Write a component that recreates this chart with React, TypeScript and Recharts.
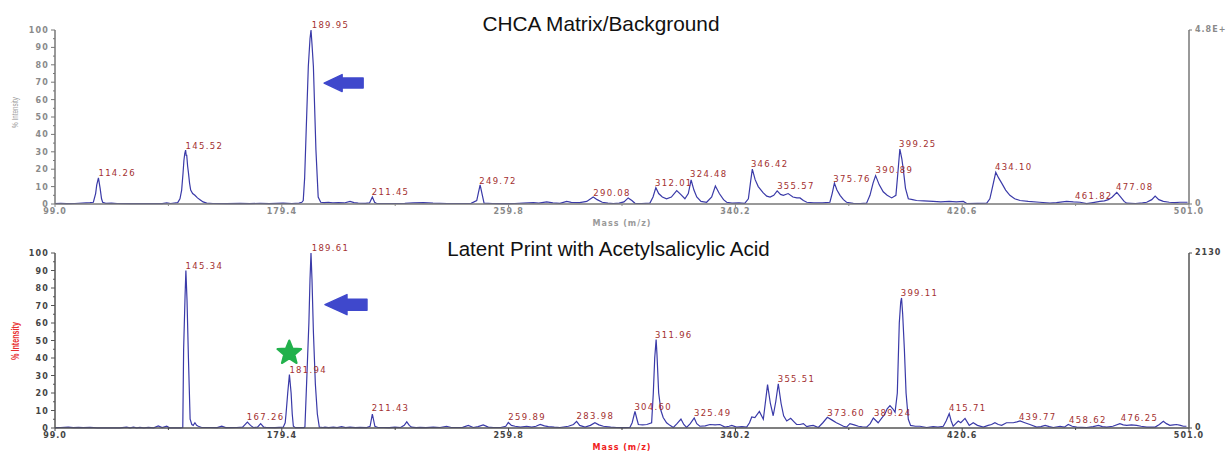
import { ComposedChart, Line, XAxis, YAxis, ReferenceDot } from "recharts";

// axis ticks
const xTicks = [99.0, 139.2, 179.4, 219.6, 259.8, 300.0, 340.2, 380.4, 420.6, 460.8, 501.0];
const xTickLabels = ["99.0", "", "179.4", "", "259.8", "", "340.2", "", "420.6", "", "501.0"];
const yTicks = [0, 5, 10, 15, 20, 25, 30, 35, 40, 45, 50, 55, 60, 65, 70, 75, 80, 85, 90, 95, 100];
const rightTicks = [0, 100];

// [mass, % intensity]
const matrixSpectrum: [number, number][] = [
  [99.0, 0.3], [101, 0.4], [103, 0.2], [106, 0.3], [111.4, 0.8], [112.6, 1], [113.4, 6], [113.8, 11], [114.4, 15],
  [115.0, 9], [115.5, 3], [115.9, 1], [117, 0.4], [119, 0.5], [121, 0.3], [126, 0.2], [134, 0.3], [137, 0.2],
  [138.6, 0.6], [140, 0.3], [142.5, 0.8], [143.3, 3], [143.9, 8], [144.4, 18], [144.7, 25], [145.0, 29], [145.3, 31],
  [145.5, 28], [145.7, 28], [146.0, 22], [146.3, 18], [146.7, 12], [147.1, 8], [147.8, 6], [148.6, 5], [149.5, 3.5],
  [150.4, 2.5], [151.5, 1.2], [152.8, 0.5], [155, 0.3], [160, 0.2], [164.6, 0.4], [168, 0.2], [171.7, 0.4], [175, 0.2],
  [179.9, 0.5], [183, 0.3], [185.5, 0.5], [186.5, 1], [187.0, 2], [187.5, 15], [188.0, 40], [188.8, 79], [189.4, 95],
  [189.75, 100], [190.1, 92], [190.6, 79], [191.5, 31], [192.3, 4], [193.2, 1], [194.5, 0.8], [195.9, 1], [197.5, 0.6],
  [199.5, 0.8], [201.5, 0.6], [203.6, 1.5], [205, 0.8], [206.5, 0.5], [209, 0.4], [210.5, 0.6], [211.5, 4], [212.3, 1],
  [213, 0.3], [218, 0.3], [223, 0.4], [226, 0.6], [229.6, 0.8], [233, 0.5], [238, 0.3], [243.2, 0.3], [246.5, 0.4],
  [248.5, 2], [249.7, 11], [250.5, 5], [251.1, 0.5], [254, 0.3], [258, 0.2], [262, 0.3], [265, 0.5], [268.6, 0.8],
  [270.5, 0.5], [273.3, 1.2], [275.5, 0.6], [278, 0.4], [280.4, 1.5], [282, 0.9], [285, 0.8], [287.5, 1.5], [289.8, 4],
  [291.2, 2.5], [293, 1], [295, 0.5], [296.9, 0.3], [299, 0.5], [300.7, 1.2], [302.2, 3.5], [303.5, 2], [304.6, 0.4],
  [307, 0.3], [309.9, 0.5], [311.0, 4], [312.0, 9.4], [313.0, 6], [314.3, 4], [315.8, 3], [317.5, 4], [319.4, 7.7],
  [320.8, 5.5], [322.3, 3], [323.5, 6], [324.5, 13.8], [325.5, 8], [326.5, 4], [328, 1.5], [330, 1], [331.8, 4],
  [333.1, 10.3], [334.5, 6], [336, 2.5], [337.1, 1], [339, 0.5], [341.5, 0.6], [343.5, 0.4], [344.8, 3], [345.6, 13],
  [346.2, 20], [347.2, 14], [348.3, 10], [350, 6.5], [351.3, 4.5], [352.5, 4], [353.8, 5], [355.0, 7.5], [356.2, 5.5],
  [357.2, 5], [358.9, 6], [360.6, 4], [362, 3.5], [363.1, 3.5], [364.3, 2], [365.5, 1], [368, 0.6], [371, 0.6],
  [373.7, 1], [374.5, 6], [375.3, 12], [376.2, 8], [377.3, 5], [378.5, 2.5], [379.6, 1], [382, 0.4], [384.5, 0.3],
  [386.7, 0.5], [387.9, 5], [389.0, 12], [389.9, 16.3], [391.2, 11], [392.6, 7], [394, 5], [395.6, 3.5], [397.1, 5],
  [397.8, 18], [398.5, 31.6], [399.2, 26], [399.7, 20], [400.5, 9], [401.5, 3], [403, 2.5], [404.4, 2], [407, 1.8],
  [410.3, 1.5], [413, 1.2], [416, 1.5], [418.5, 1.2], [421, 1.5], [422.2, 0.3], [426, 0.4], [429.3, 0.5], [430.4, 3],
  [431.1, 8], [432.5, 18.2], [433.5, 15], [434.6, 12], [436, 8], [437.5, 5], [439.2, 3], [441.1, 2], [444, 1.5],
  [448, 1], [451.7, 0.5], [454, 0.8], [457.6, 1.5], [460, 1.2], [462.4, 1], [464.7, 0.2], [467, 0.8], [469.4, 1.5],
  [471, 1.8], [472.4, 2.5], [473.8, 4], [475.4, 6.7], [476.8, 4], [478.0, 1.5], [478.9, 0.5], [482, 0.3], [484.5, 0.6],
  [486, 1], [487.8, 2.5], [489.0, 4.6], [490.3, 2.5], [491.9, 1.5], [494, 1], [496, 0.8], [497.8, 1], [500.5, 1],
];

const printSpectrum: [number, number][] = [
  [99.0, 0.2], [101, 0.3], [103.7, 0.5], [105.5, 0.2], [107.3, 0.4], [109, 0.2], [111.4, 0.3], [114, 0.1], [122, 0.1],
  [124.4, 0.5], [125.6, 0.1], [126.8, 0.5], [128, 0.1], [129.1, 0.3], [130.5, 0.1], [132.1, 0.3], [134, 0.1],
  [135.6, 1.2], [137, 0.2], [138.6, 1], [139.6, 0.1], [143.5, 0.1], [144.3, 0.3], [144.6, 45], [145.1, 75], [145.4, 90],
  [145.8, 73], [146.3, 40], [146.9, 5], [147.5, 2], [148.0, 1.5], [148.6, 3], [149.2, 1.5], [149.8, 1], [151, 0.3],
  [154, 0.3], [156.5, 0.2], [158.1, 1], [159.5, 0.2], [163.4, 0.3], [165.5, 0.5], [167.2, 3.4], [168.3, 1.5],
  [169.3, 0.3], [170.8, 0.5], [171.9, 2.5], [173, 0.5], [174, 0.3], [177, 0.2], [179.9, 0.5], [180.6, 3], [180.9, 8],
  [181.5, 20], [182.1, 30.5], [182.7, 20], [183.1, 8], [183.5, 1], [184.2, 0.2], [187.2, 0.2], [187.6, 0.5], [188.3, 30],
  [189.0, 60], [189.4, 85], [189.75, 100], [190.1, 85], [190.6, 55], [191.3, 25], [192.0, 8], [192.7, 0.5], [194, 0.3],
  [194.7, 0.5], [196, 0.2], [197.7, 0.5], [199, 0.2], [200.6, 0.8], [202, 0.2], [203.6, 0.5], [205.5, 0.2], [207.1, 0.3],
  [209.5, 0.2], [210.7, 1], [211.5, 8], [212.4, 1], [213.5, 0.3], [215.4, 0.3], [217.5, 0.2], [219.5, 0.5], [221.5, 0.3],
  [222.8, 1.5], [223.7, 3.5], [224.6, 1.5], [225.4, 0.5], [227, 0.2], [228.4, 0.3], [230.5, 0.2], [233.1, 0.5],
  [235.5, 0.3], [237.8, 1], [239.5, 0.3], [241.4, 0.3], [243.5, 0.4], [245.5, 1.5], [247.3, 0.3], [249, 0.8],
  [250.8, 1.8], [252.6, 0.5], [254.4, 0.3], [257, 0.3], [258.8, 1], [259.7, 3.2], [260.8, 1.5], [262.1, 1], [264, 0.5],
  [266.2, 1], [268, 0.5], [269.5, 1], [271, 2], [272.5, 1.2], [273.9, 0.8], [276, 0.5], [278, 0.3], [281, 1], [282.8, 2],
  [283.9, 3.8], [285, 1.5], [286.9, 0.5], [288.8, 1.5], [290.4, 3], [291.8, 1.8], [293.4, 1], [296, 0.5], [298.1, 0.3],
  [300.5, 0.2], [302.8, 0.3], [303.6, 3], [304.6, 9.5], [305.3, 5], [305.8, 2], [307.3, 1.8], [308.8, 2], [310.5, 3],
  [311.1, 20], [311.6, 40], [312.1, 50.5], [312.4, 42], [313.0, 20], [313.8, 10], [314.6, 6], [315.8, 3], [317, 1.5],
  [318.2, 0.3], [319.5, 2.5], [320.9, 5.1], [321.9, 2], [322.9, 0.3], [324.2, 2.5], [325.6, 5.7], [326.5, 2.5],
  [327.6, 1], [329.5, 1.2], [331.2, 2], [333, 1.8], [334.7, 2], [336.5, 0.5], [338.0, 1], [338.9, 1.5], [340.6, 0.5],
  [342.5, 0.8], [344.2, 0.5], [345.2, 3], [346.0, 6.3], [347.1, 6], [348.7, 9.5], [350.1, 5], [351.6, 24.8], [352.6, 14],
  [353.6, 7], [354.5, 15], [355.4, 25.3], [356.4, 14], [357.3, 7], [358.4, 4], [359.8, 5.5], [361.0, 3.5], [361.9, 2],
  [363.1, 2], [364.3, 2.5], [365.5, 0.8], [366.6, 1.2], [367.8, 1.5], [369.6, 0.3], [371.2, 3], [372.8, 6.1],
  [374.5, 4.5], [376, 3], [377.3, 2], [378.5, 1], [379.6, 0.5], [380.8, 2.5], [382.3, 1.8], [383.8, 1], [385.2, 0.7],
  [386.7, 0.5], [388, 2.5], [389.1, 5.7], [390.8, 3], [392, 5.5], [393.2, 8], [394, 11], [395, 12.8], [396, 11],
  [396.8, 9], [397.6, 20], [398.3, 60], [398.8, 72], [399.1, 74.3], [399.5, 65], [400.1, 45], [400.7, 20], [401.5, 5],
  [402.3, 1.5], [404, 1], [405.6, 1], [408, 0.3], [410.3, 0.8], [412, 0.5], [413.9, 1], [414.9, 4], [416.0, 8.2],
  [416.7, 4], [417.4, 1], [418.3, 2.5], [419.2, 4], [420.1, 3], [421.6, 5.5], [423.1, 1.5], [424.5, 3], [426, 1.5],
  [428.1, 0.5], [429.8, 1.5], [431, 2], [432.2, 3], [433.4, 2], [434.6, 1.5], [436.3, 3], [438.7, 3], [440, 3.5],
  [441.1, 4], [442.8, 3], [444.6, 2], [447, 0.5], [448.5, 0.8], [450, 1.5], [451.5, 0.8], [452.9, 0.3], [455.3, 1],
  [456.8, 0.5], [458.2, 2], [459.6, 1], [461.2, 0.5], [464.7, 0.3], [467, 0.8], [468.9, 1.5], [470.3, 0.8], [471.8, 0.5],
  [474, 1], [476.5, 2.5], [477.7, 1.8], [478.9, 1.5], [480.6, 1.8], [482.4, 1.5], [484, 1], [486, 0.5], [489, 0.5],
  [490.5, 2], [491.9, 3.8], [493, 2.5], [494.2, 1.5], [495.5, 1.8], [496.6, 2], [498, 1.5], [499, 1], [500.1, 1],
];

// peak annotations: [mass, intensity at text baseline, text]
const matrixPeaks: [number, number, string][] = [
  [114.4, 16.3, "114.26"], [145.3, 31.8, "145.52"], [190.0, 101, "189.95"], [211.3, 5.2, "211.45"],
  [249.4, 11.5, "249.72"], [289.8, 4.8, "290.08"], [311.7, 10.5, "312.01"], [324.1, 15.7, "324.48"],
  [345.7, 21.4, "346.42"], [355.0, 8.4, "355.57"], [374.9, 12.8, "375.76"], [389.9, 17.6, "390.89"],
  [398.2, 32.9, "399.25"], [432.2, 19.5, "434.10"], [460.6, 2.9, "461.82"], [475.1, 8, "477.08"],
];

const printPeaks: [number, number, string][] = [
  [145.3, 90.9, "145.34"], [167.0, 4.4, "167.26"], [182.1, 31.4, "181.94"], [190.0, 100.9, "189.61"],
  [211.3, 9.5, "211.43"], [259.7, 4.4, "259.89"], [283.9, 5.1, "283.98"], [304.4, 10.5, "304.60"],
  [311.7, 51.4, "311.96"], [325.5, 7.0, "325.49"], [355.2, 26.1, "355.51"], [372.8, 6.6, "373.60"],
  [389.3, 6.6, "389.24"], [398.8, 75.6, "399.11"], [415.9, 9.5, "415.71"], [440.7, 4.7, "439.77"],
  [458.5, 2.9, "458.62"], [476.8, 3.8, "476.25"],
];

const matrixData = matrixSpectrum.map(([m, i]) => ({ m, i }));
const printData = printSpectrum.map(([m, i]) => ({ m, i }));

const TICK_FONT = "DejaVu Sans, sans-serif";
const LINE_COLOR = "#3a3aa8";
const PEAK_COLOR = "#a33030";

const makeXTick = (color: string) => (props: any) => {
  const { x, y, payload } = props;
  const label = xTickLabels[xTicks.indexOf(payload.value)] ?? "";
  return (
    <g>
      <line x1={x} x2={x} y1={y} y2={y + (label ? 3 : 2)} stroke={color} strokeWidth={1} />
      {label && (
        <text x={x} y={y + 10} textAnchor="middle" fill={color} fontFamily={TICK_FONT}
          fontSize={8} fontWeight="bold" letterSpacing={1}>
          {label}
        </text>
      )}
    </g>
  );
};

const makeYTick = (color: string, axisColor: string) => (props: any) => {
  const { x, y, payload } = props;
  const major = payload.value % 10 === 0;
  return (
    <g>
      <line x1={x} x2={x - (major ? 4 : 2)} y1={y} y2={y} stroke={axisColor} strokeWidth={1} />
      {major && (
        <text x={x - 6} y={y + 3} textAnchor="end" fill={color} fontFamily={TICK_FONT}
          fontSize={8} fontWeight="bold" letterSpacing={1.2}>
          {payload.value}
        </text>
      )}
    </g>
  );
};

const makeRightTick = (topLabel: string, color: string, axisColor: string) => (props: any) => {
  const { x, y, payload } = props;
  return (
    <g>
      <line x1={x} x2={x + 3} y1={y} y2={y} stroke={axisColor} strokeWidth={1} />
      <text x={x + 6} y={y + 2} textAnchor="start" fill={color} fontFamily={TICK_FONT}
        fontSize={8} fontWeight="bold" letterSpacing={1}>
        {payload.value === 0 ? "0" : topLabel}
      </text>
    </g>
  );
};

const peakText = (text: string) => (p: any) => (
  <text x={p.cx} y={p.cy} fill={PEAK_COLOR} fontFamily={TICK_FONT} fontSize={8.5} letterSpacing={1.3}>
    {text}
  </text>
);

const arrowShape = (head: number, len: number, hh: number, bh: number) => (p: any) => {
  const { cx, cy } = p;
  const pts = [
    [cx, cy], [cx + head, cy - hh], [cx + head, cy - bh], [cx + len, cy - bh],
    [cx + len, cy + bh], [cx + head, cy + bh], [cx + head, cy + hh],
  ].map((q) => q.join(",")).join(" ");
  return <polygon points={pts} fill="#3f48cc" stroke="#3f48cc" strokeWidth={1.5} strokeLinejoin="round" />;
};

const starShape = (p: any) => {
  const { cx, cy } = p;
  const pts: string[] = [];
  for (let k = 0; k < 10; k++) {
    const r = k % 2 === 0 ? 12.5 : 5.5;
    const a = -Math.PI / 2 + (k * Math.PI) / 5;
    pts.push(`${cx + r * Math.cos(a)},${cy + r * Math.sin(a)}`);
  }
  return <polygon points={pts.join(" ")} fill="#22b14c" stroke="#22b14c" strokeWidth={2} strokeLinejoin="round" />;
};

interface PanelProps {
  data: { m: number; i: number }[];
  peaks: [number, number, string][];
  marginTop: number;
  marginBottom: number;
  tickColor: string;
  axisColor: string;
  rightLabel: string;
  children?: React.ReactNode;
}

const SpectrumPanel = ({ data, peaks, marginTop, marginBottom, tickColor, axisColor, rightLabel, children }: PanelProps) => (
  <ComposedChart width={1228} height={226} data={data}
    margin={{ top: marginTop, right: 0, bottom: marginBottom, left: 0 }}>
    <XAxis dataKey="m" type="number" domain={[99, 501]} ticks={xTicks} allowDataOverflow
      height={22} tickSize={0} tickMargin={0} tickLine={false} interval={0}
      axisLine={{ stroke: axisColor, strokeWidth: 1.5 }} tick={makeXTick(tickColor)} />
    <YAxis type="number" domain={[0, 100]} ticks={yTicks} width={55} interval={0}
      tickSize={0} tickMargin={0} tickLine={false}
      axisLine={{ stroke: axisColor, strokeWidth: 1.5 }} tick={makeYTick(tickColor, axisColor)} />
    <YAxis yAxisId="right" orientation="right" type="number" domain={[0, 100]} ticks={rightTicks} width={39}
      allowDataOverflow interval={0} tickSize={0} tickMargin={0} tickLine={false}
      axisLine={{ stroke: axisColor, strokeWidth: 1.5 }} tick={makeRightTick(rightLabel, tickColor, axisColor)} />
    <Line type="linear" dataKey="i" stroke={LINE_COLOR} strokeWidth={1.2} dot={false} isAnimationActive={false} />
    {peaks.map(([m, i, t]) => (
      <ReferenceDot key={t} x={m} y={i} r={0} ifOverflow="visible" shape={peakText(t)} />
    ))}
    {children}
  </ComposedChart>
);

const App = () => {
  const font = "Liberation Sans, Arial, sans-serif";
  return (
    <div style={{ position: "absolute", left: 0, top: 0, width: 1228, height: 452, background: "#fff" }}>
      <div style={{ position: "absolute", left: 0, top: 0 }}>
        <SpectrumPanel data={matrixData} peaks={matrixPeaks} marginTop={30} marginBottom={0}
          tickColor="#8a8a8a" axisColor="#777" rightLabel="4.8E+">
          <ReferenceDot x={194.4} y={69.5} r={0} ifOverflow="visible" shape={arrowShape(18, 39, 8.5, 5)} />
        </SpectrumPanel>
      </div>
      <div style={{ position: "absolute", left: 0, top: 226 }}>
        <SpectrumPanel data={printData} peaks={printPeaks} marginTop={27} marginBottom={2}
          tickColor="#444" axisColor="#555" rightLabel="2130">
          <ReferenceDot x={194.7} y={70.5} r={0} ifOverflow="visible" shape={arrowShape(22, 42, 10, 5.5)} />
          <ReferenceDot x={182.05} y={42.9} r={0} ifOverflow="visible" shape={starShape} />
        </SpectrumPanel>
      </div>
      <svg width={1228} height={452} style={{ position: "absolute", left: 0, top: 0, pointerEvents: "none" }}>
        <text x={601} y={31} textAnchor="middle" fontFamily={font} fontSize={20.8} fill="#111">
          CHCA Matrix/Background
        </text>
        <text x={608.5} y={256} textAnchor="middle" fontFamily={font} fontSize={20.5} fill="#111">
          Latent Print with Acetylsalicylic Acid
        </text>
        <text x={622} y={226} textAnchor="middle" fontFamily={TICK_FONT} fontSize={8} fontWeight="bold"
          fill="#9a9a9a" letterSpacing={1}>
          Mass (m/z)
        </text>
        <text x={622} y={450} textAnchor="middle" fontFamily={TICK_FONT} fontSize={8} fontWeight="bold"
          fill="#f02020" letterSpacing={1}>
          Mass (m/z)
        </text>
        <text transform="translate(18,112.5) rotate(-90)" textAnchor="middle" fontFamily={font} fontSize={9}
          fill="#9a9a9a" textLength={31} lengthAdjust="spacingAndGlyphs">
          % Intensity
        </text>
        <text transform="translate(18.5,341) rotate(-90)" textAnchor="middle" fontFamily={font} fontSize={10}
          fontWeight="bold" fill="#e83030" textLength={38} lengthAdjust="spacingAndGlyphs">
          % Intensity
        </text>
      </svg>
    </div>
  );
};

export default App;
